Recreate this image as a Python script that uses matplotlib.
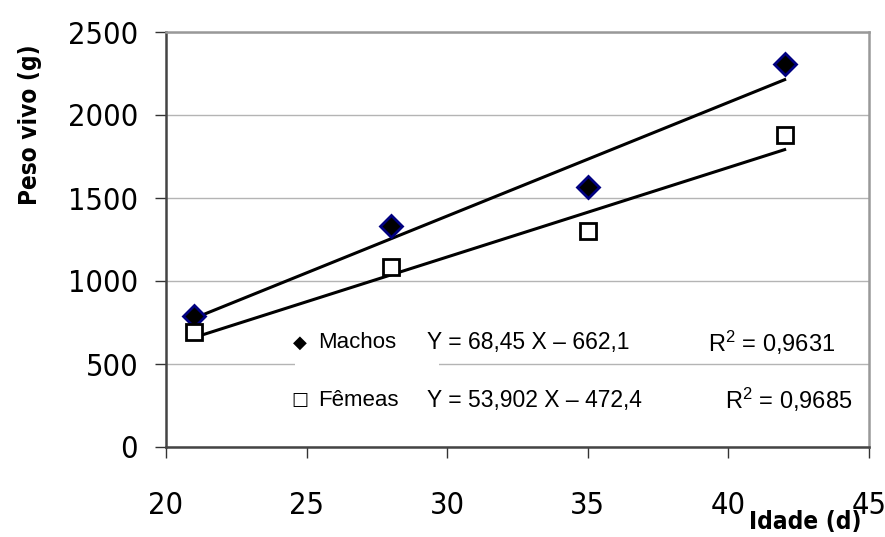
import numpy as np
import matplotlib
matplotlib.use("Agg")
import matplotlib.pyplot as plt
from matplotlib.patches import Rectangle

# ==========================================
# DATA
# ==========================================

idade = [21, 28, 35, 42]
machos = [790, 1330, 1565, 2305]
femeas = [690, 1085, 1300, 1880]

# trend lines as printed on the chart (slope, intercept)
coef_machos = [68.45, -662.1]
coef_femeas = [53.902, -472.4]

eq_machos = "Y = 68,45 X \u2013 662,1"
eq_femeas = "Y = 53,902 X \u2013 472,4"
r2_machos = "0,9631"
r2_femeas = "0,9685"

x_ticks = [20, 25, 30, 35, 40, 45]
y_ticks = [0, 500, 1000, 1500, 2000, 2500]

# ==========================================
# FIGURE
# ==========================================

W, H = 885, 537
sans = ["Liberation Sans", "DejaVu Sans"]

tick_font = dict(family="DejaVu Sans", stretch="condensed", size=22)
label_font = dict(family="DejaVu Sans", stretch="condensed", size=17.5, weight="bold")

plt.rcParams["mathtext.fontset"] = "custom"
plt.rcParams["mathtext.rm"] = "Liberation Sans"
plt.rcParams["mathtext.it"] = "Liberation Sans"

fig = plt.figure(figsize=(W / 100, H / 100), dpi=100)
ax = fig.add_axes([166 / W, 1 - 447 / H, (869 - 166) / W, (447 - 32) / H])


def px(x, y):
    return x / W, 1 - y / H


ax.set_xlim(20, 45)
ax.set_ylim(0, 2500)
ax.set_xticks(x_ticks)
ax.set_yticks(y_ticks)
ax.set_xticklabels([str(t) for t in x_ticks], fontdict=tick_font)
ax.set_yticklabels([str(t) for t in y_ticks], fontdict=tick_font)
ax.tick_params(axis="both", direction="out", length=8, width=1, color="#333333")
ax.tick_params(axis="x", pad=24)
ax.tick_params(axis="y", pad=12)

ax.set_axisbelow(True)
ax.yaxis.grid(True, color="#b4b4b4", linewidth=1)

for side in ["left", "bottom"]:
    ax.spines[side].set_color("#444444")
    ax.spines[side].set_linewidth(1.8)
for side in ["top", "right"]:
    ax.spines[side].set_color("#999999")
    ax.spines[side].set_linewidth(1.8)

# white box behind the Machos label (breaks the 500 gridline)
ax.add_patch(Rectangle(px(295, 372), (439 - 295) / W, 47 / H,
                       transform=fig.transFigure, facecolor="white",
                       edgecolor="none", zorder=1))

# ==========================================
# TREND LINES
# ==========================================

xfit = np.array([idade[0], idade[-1]])
ax.plot(xfit, np.polyval(coef_machos, xfit), color="black", linewidth=2.2, zorder=2)
ax.plot(xfit, np.polyval(coef_femeas, xfit), color="black", linewidth=2.2, zorder=2)

# ==========================================
# POINTS
# ==========================================

ax.plot(idade, machos, linestyle="none", marker="D", markersize=11,
        markerfacecolor="black", markeredgecolor="#000080",
        markeredgewidth=2, zorder=3, clip_on=False)
ax.plot(idade, femeas, linestyle="none", marker="s", markersize=12,
        markerfacecolor="white", markeredgecolor="black",
        markeredgewidth=2, zorder=3, clip_on=False)

# ==========================================
# LABELS
# ==========================================

fig.text(*px(30, 125), "Peso vivo (g)", rotation=90, ha="center", va="center",
         fontdict=label_font)
fig.text(*px(805, 522), "Idade (d)", ha="center", va="center",
         fontdict=label_font)

# ==========================================
# EQUATIONS
# ==========================================

rows = [
    ("\u25c6", "Machos", eq_machos, r2_machos, 343, 708),
    ("\u25a1", "F\u00eameas", eq_femeas, r2_femeas, 400, 725),
]

for sym, name, eq, r2, ypix, rx in rows:
    fig.text(*px(300, ypix), sym, ha="center", va="center",
             family=["DejaVu Sans"], fontsize=13)
    fig.text(*px(318, ypix), name, ha="left", va="center",
             family=sans, fontsize=16)
    fig.text(*px(427, ypix), eq, ha="left", va="center",
             family=sans, fontsize=16.5)
    fig.text(*px(rx, ypix), "R$^{2}$ = " + r2, ha="left", va="center",
             family=sans, fontsize=17)

fig.savefig("out.png", dpi=100)
